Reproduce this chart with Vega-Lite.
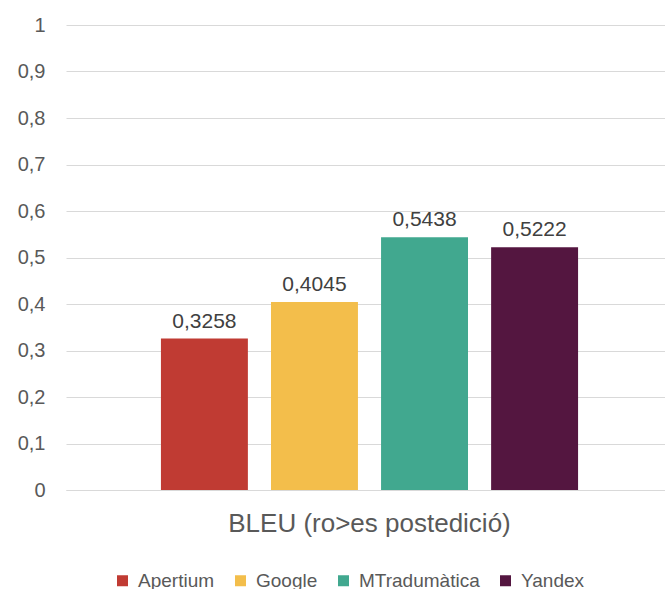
{
  "$schema": "https://vega.github.io/schema/vega-lite/v6.json",
  "width": 599,
  "height": 465,
  "autosize": {"type": "none"},
  "padding": {"left": 66, "top": 25, "right": 0, "bottom": 99},
  "background": "white",
  "config": {
    "locale": {"number": {"decimal": ",", "thousands": ".", "grouping": [3], "currency": ["", " €"]}},
    "font": "Liberation Sans, Arial, sans-serif",
    "view": {"stroke": null}
  },
  "data": {
    "values": [
      {"metric": "BLEU (ro>es postedició)", "system": "Apertium", "score": 0.3258},
      {"metric": "BLEU (ro>es postedició)", "system": "Google", "score": 0.4045},
      {"metric": "BLEU (ro>es postedició)", "system": "MTradumàtica", "score": 0.5438},
      {"metric": "BLEU (ro>es postedició)", "system": "Yandex", "score": 0.5222}
    ]
  },
  "encoding": {
    "x": {
      "field": "metric", "type": "nominal",
      "scale": {"paddingInner": 0, "paddingOuter": 0.218, "align": 0.522},
      "axis": {"title": null, "labelAngle": 0, "domain": true, "domainColor": "#d9d9d9", "ticks": false, "labelFontSize": 26, "labelColor": "#595959", "labelPadding": 20, "labelBaseline": "top", "labelLimit": 0}
    },
    "xOffset": {"field": "system", "type": "nominal", "scale": {"paddingInner": 0.21, "paddingOuter": 0}},
    "y": {
      "field": "score", "type": "quantitative",
      "scale": {"domain": [0, 1]},
      "axis": {"title": null, "values": [0, 0.1, 0.2, 0.3, 0.4, 0.5, 0.6, 0.7, 0.8, 0.9, 1], "format": ".1~f", "domain": false, "ticks": false, "gridColor": "#d9d9d9", "labelFontSize": 20, "labelColor": "#595959", "labelPadding": 21}
    }
  },
  "layer": [
    {
      "mark": {"type": "bar"},
      "encoding": {
        "color": {
          "field": "system", "type": "nominal",
          "scale": {"domain": ["Apertium", "Google", "MTradumàtica", "Yandex"], "range": ["#C03B33", "#F3BE4B", "#41A88F", "#541640"]},
          "legend": {"title": null, "orient": "none", "direction": "horizontal", "legendX": 47, "legendY": 546, "symbolType": "square", "symbolSize": 121, "symbolStrokeWidth": 0, "labelFontSize": 19, "labelColor": "#595959", "columnPadding": 16, "labelOffset": 6, "labelLimit": 0}
        }
      }
    },
    {
      "mark": {"type": "text", "baseline": "bottom", "dy": -7, "fontSize": 21, "color": "#404040"},
      "encoding": {
        "text": {"field": "score", "type": "quantitative", "format": ".4f"}
      }
    }
  ]
}
